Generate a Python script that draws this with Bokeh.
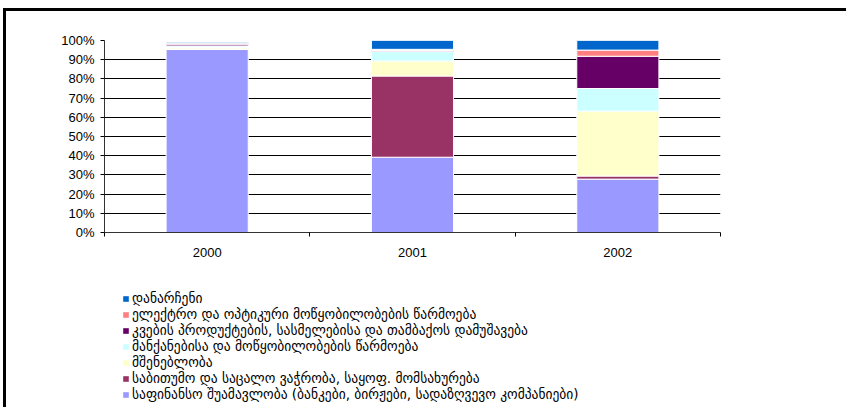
from bokeh.plotting import figure
from bokeh.layouts import column
from bokeh.models import (ColumnDataSource, Range1d, FixedTicker, PrintfTickFormatter,
                          Legend, LegendItem)
from bokeh.embed import file_html
from bokeh.resources import INLINE

years = ["2000", "2001", "2002"]

financial = [95.3, 39.2, 27.8]
trade = [0.3, 42.3, 1.6]
construction = [0.9, 7.8, 33.8]
machinery = [0.7, 4.9, 11.8]
food = [0.9, 0.6, 16.8]
electrical = [0.5, 0.6, 3.2]
others = [0.5, 4.6, 5.0]

series_names = ["financial", "trade", "construction", "machinery", "food", "electrical", "others"]
series_labels = [
    "საფინანსო შუამავლობა (ბანკები, ბირჟები, სადაზღვევო კომპანიები)",
    "საბითუმო და საცალო ვაჭრობა, საყოფ. მომსახურება",
    "მშენებლობა",
    "მანქანებისა და მოწყობილობების წარმოება",
    "კვების პროდუქტების, სასმელებისა და თამბაქოს დამუშავება",
    "ელექტრო და ოპტიკური მოწყობილობების წარმოება",
    "დანარჩენი",
]
series_colors = ["#9999FF", "#993366", "#FFFFCC", "#CCFFFF", "#660066", "#FF8080", "#0066CC"]

y_ticks = list(range(0, 101, 10))

xpos = [i + 0.5 for i in range(len(years))]
source = ColumnDataSource(dict(
    x=xpos, financial=financial, trade=trade, construction=construction,
    machinery=machinery, food=food, electrical=electrical, others=others,
))

W = 843
H1, H2 = 260, 139
p = figure(width=W, height=H1, output_backend="svg", toolbar_location=None,
           x_range=Range1d(0, len(years)), y_range=Range1d(0, 100),
           min_border_left=98, min_border_right=W - 98 - 616,
           min_border_top=29, min_border_bottom=H1 - 29 - 192)
p.styles = {"border-left": "3px solid black", "border-top": "3px solid black",
            "margin-left": "3px", "margin-top": "8px"}
p.outline_line_color = None
p.background_fill_color = "white"
p.border_fill_color = "white"

renderers = p.vbar_stack(series_names, x="x", width=0.4, color=series_colors,
                         line_color="white", line_width=1, source=source)

# x axis
p.xaxis.ticker = FixedTicker(ticks=xpos, minor_ticks=list(range(len(years) + 1)))
p.xaxis.major_label_overrides = {x: y for x, y in zip(xpos, years)}
p.xaxis.major_tick_out = 0
p.xaxis.major_tick_in = 0
p.xaxis.minor_tick_out = 4
p.xaxis.minor_tick_in = 0
p.xaxis.minor_tick_line_color = "black"
p.xaxis.axis_line_color = "#333333"
p.xaxis.major_label_standoff = 11
p.xaxis.major_label_text_font = "Liberation Sans"
p.xaxis.major_label_text_font_size = "13px"
p.xaxis.major_label_text_color = "black"

# y axis
p.yaxis.ticker = FixedTicker(ticks=y_ticks)
p.yaxis.formatter = PrintfTickFormatter(format="%d%%")
p.yaxis.major_tick_out = 4
p.yaxis.major_tick_in = 0
p.yaxis.minor_tick_line_color = None
p.yaxis.major_tick_line_color = "black"
p.yaxis.axis_line_color = "#333333"
p.yaxis.major_label_standoff = 6
p.yaxis.major_label_text_font = "Liberation Sans"
p.yaxis.major_label_text_font_size = "13px"
p.yaxis.major_label_text_color = "black"

p.xgrid.grid_line_color = None
p.ygrid.ticker = FixedTicker(ticks=y_ticks)
p.ygrid.grid_line_color = "black"
p.ygrid.grid_line_width = 1

# legend figure (swatches use the same colours; glyphs sit outside the visible range)
pl = figure(width=W, height=H2, output_backend="svg", toolbar_location=None,
            x_range=Range1d(0, 1), y_range=Range1d(0, 1),
            x_axis_type=None, y_axis_type=None,
            min_border_left=0, min_border_right=0, min_border_top=0, min_border_bottom=0)
pl.styles = {"border-left": "3px solid black", "margin-left": "3px"}
pl.outline_line_color = None
pl.grid.visible = False
pl.background_fill_color = "white"
pl.border_fill_color = "white"

items = []
for lab, col in zip(series_labels, series_colors):
    r = pl.vbar(x=[-10], top=[0], width=0.4, fill_color=col, line_color=None)
    items.append(LegendItem(label=lab, renderers=[r]))
items.reverse()
legend = Legend(items=items, location=(18, 5), orientation="vertical",
                padding=0, margin=0, border_line_color=None, background_fill_alpha=0,
                glyph_width=7, glyph_height=7, label_height=16, spacing=0,
                label_standoff=3, label_text_font="DejaVu Sans",
                label_text_font_size="13.5px", label_text_color="black")
pl.add_layout(legend, "center")

layout = column(p, pl, spacing=0)
open("out.html", "w").write(file_html(layout, INLINE))
